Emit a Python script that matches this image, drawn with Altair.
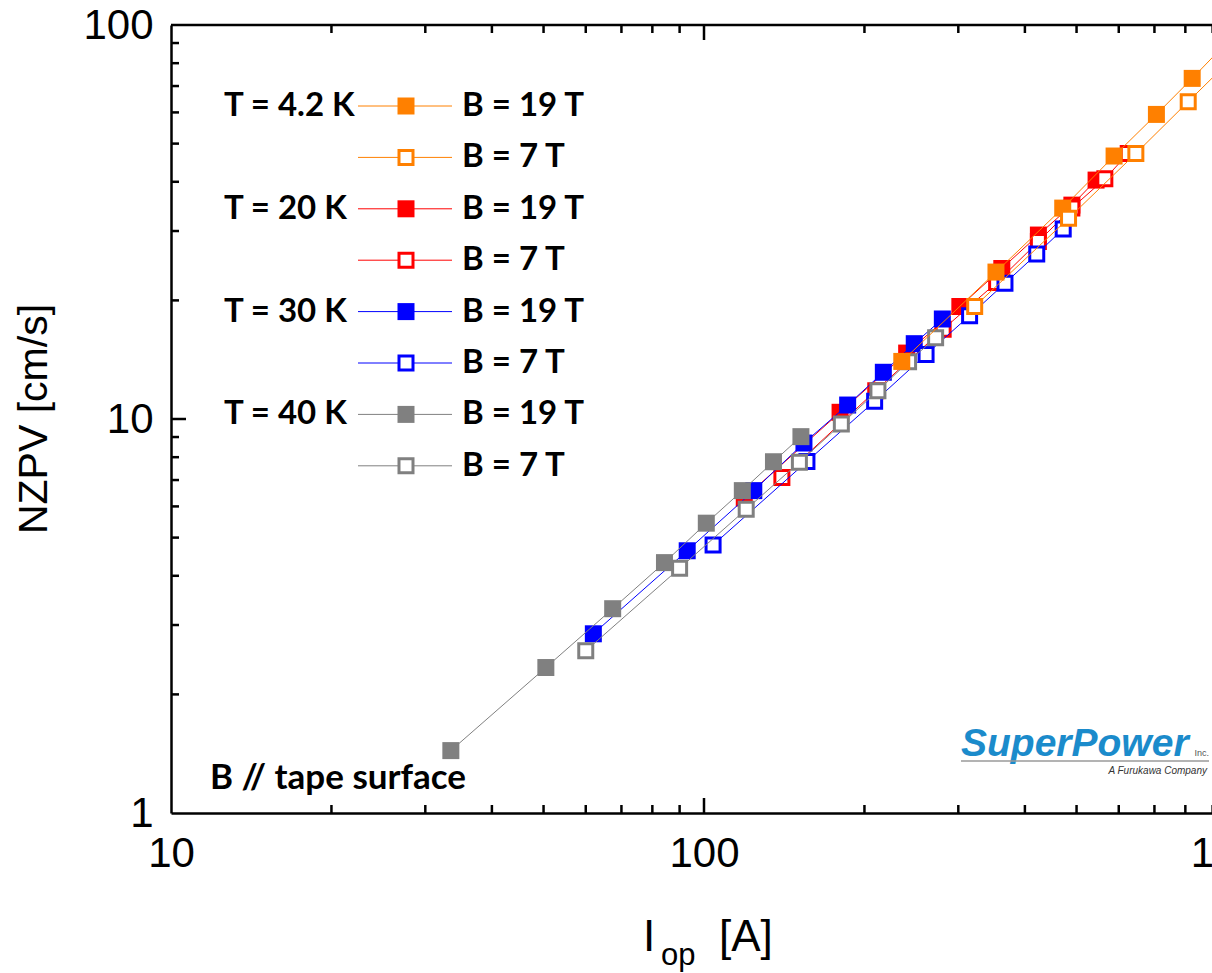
import altair as alt
import pandas as pd

# ---- measured points: operating current I_op [A] and NZPV [cm/s] ----
cur_4k2_19t = [235, 353, 471, 588, 706, 824, 940]
nzpv_4k2_19t = [14.0, 23.6, 34.3, 46.5, 59.3, 73.2, 88.0]
cur_4k2_7t = [322, 483, 646, 810, 966]
nzpv_4k2_7t = [19.3, 32.3, 47.2, 63.9, 80.8]
cur_20k_19t = [119, 180, 240, 302, 362, 424, 490, 544]
nzpv_20k_19t = [6.3, 10.4, 14.7, 19.3, 24.1, 29.3, 34.9, 40.4]
cur_20k_7t = [140, 210, 281, 354, 424, 490, 565, 625]
nzpv_20k_7t = [7.1, 11.8, 16.9, 22.2, 28.2, 34.3, 40.7, 47.2]
cur_30k_19t = [62, 93, 124, 154, 186, 217, 248, 280]
nzpv_30k_19t = [2.85, 4.63, 6.58, 8.69, 10.85, 13.14, 15.53, 17.94]
cur_30k_7t = [104, 156, 209, 261, 315, 367, 421, 472]
nzpv_30k_7t = [4.79, 7.80, 11.09, 14.58, 18.29, 22.10, 26.23, 30.35]
cur_40k_19t = [33.5, 50.5, 67.4, 84.3, 101, 118, 135, 152]
nzpv_40k_19t = [1.44, 2.34, 3.30, 4.32, 5.44, 6.58, 7.79, 9.02]
cur_40k_7t = [60, 90, 120, 151, 181, 212, 242, 272]
nzpv_40k_7t = [2.58, 4.18, 5.90, 7.77, 9.71, 11.80, 13.98, 16.08]

# legend / annotation texts
temp_labels = ["T = 4.2 K", "T = 20 K", "T = 30 K", "T = 40 K"]
field_labels = ["B = 19 T", "B = 7 T"]
note_text = "B // tape surface"

# axis labels and tick positions
x_labels = [10, 100, 1000]
y_labels = [1, 10, 100]
x_minor = [20, 30, 40, 50, 60, 70, 80, 90, 200, 300, 400, 500, 600, 700, 800, 900]
x_major = [100]
y_minor = [2, 3, 4, 5, 6, 7, 8, 9, 20, 30, 40, 50, 60, 70, 80, 90]
y_major = [10]

ORANGE, RED, BLUE, GRAY = "#FF8000", "#FF0000", "#0000FF", "#808080"

# (temperature index, field index, currents, velocities, colour, filled marker)
series = {
    "4.2K19T": (0, 0, cur_4k2_19t, nzpv_4k2_19t, ORANGE, True),
    "4.2K7T": (0, 1, cur_4k2_7t, nzpv_4k2_7t, ORANGE, False),
    "20K19T": (1, 0, cur_20k_19t, nzpv_20k_19t, RED, True),
    "20K7T": (1, 1, cur_20k_7t, nzpv_20k_7t, RED, False),
    "30K19T": (2, 0, cur_30k_19t, nzpv_30k_19t, BLUE, True),
    "30K7T": (2, 1, cur_30k_7t, nzpv_30k_7t, BLUE, False),
    "40K19T": (3, 0, cur_40k_19t, nzpv_40k_19t, GRAY, True),
    "40K7T": (3, 1, cur_40k_7t, nzpv_40k_7t, GRAY, False),
}
draw_order = ["20K19T", "20K7T", "30K19T", "30K7T", "40K19T", "40K7T", "4.2K19T", "4.2K7T"]
legend_order = ["4.2K19T", "4.2K7T", "20K19T", "20K7T", "30K19T", "30K7T", "40K19T", "40K7T"]

PLOT_W = 1041     # visible width of the plot area
X_RANGE = 1066    # pixel length of the full 10..1000 span
PLOT_H = 788
AXIS_FONT = "Liberation Sans"
TEXT_FONT = "Lato"
FILLED_SIZE = 289
OPEN_SIZE = 196

x_scale = alt.Scale(type="log", domain=[10, 1000], range=[0, X_RANGE])
y_scale = alt.Scale(type="log", domain=[1, 100])

# one shared axis definition per channel, used by every layer on that channel
x_axis = alt.Axis(values=x_labels, format="d", ticks=False, tickSize=0, grid=False,
                  domainColor="black", domainWidth=2.5, labelFont=AXIS_FONT,
                  labelFontSize=42, labelColor="black", labelPadding=20,
                  labelFlush=False, labelOverlap=False, title=None)
y_axis = alt.Axis(values=y_labels, format="d", ticks=False, tickSize=0, grid=False,
                  domainColor="black", domainWidth=2.5, labelFont=AXIS_FONT,
                  labelFontSize=42, labelColor="black", labelPadding=18,
                  labelOverlap=False, title=None)

X_ENC = lambda f: alt.X(f, scale=x_scale, axis=x_axis)
Y_ENC = lambda f: alt.Y(f, scale=y_scale, axis=y_axis)

one = pd.DataFrame({"k": [0]})
layers = []

# ---- inward-pointing ticks on the bottom, top and left edges ----
def tick_frame(vals):
    return pd.DataFrame({"t": vals})

def rule(df):
    return alt.Chart(df).mark_rule(color="black", strokeWidth=2.5)

layers += [
    rule(tick_frame(x_minor)).encode(x=X_ENC("t:Q"), y=alt.value(PLOT_H), y2=alt.value(PLOT_H - 8)),
    rule(tick_frame(x_major)).encode(x=X_ENC("t:Q"), y=alt.value(PLOT_H), y2=alt.value(PLOT_H - 15)),
    rule(tick_frame(x_minor)).encode(x=X_ENC("t:Q"), y=alt.value(0), y2=alt.value(8)),
    rule(tick_frame(x_major)).encode(x=X_ENC("t:Q"), y=alt.value(0), y2=alt.value(15)),
    rule(tick_frame(y_minor)).encode(y=Y_ENC("t:Q"), x=alt.value(0), x2=alt.value(8)),
    rule(tick_frame(y_major)).encode(y=Y_ENC("t:Q"), x=alt.value(0), x2=alt.value(15)),
    rule(one).encode(x=alt.value(0), x2=alt.value(X_RANGE), y=alt.value(0)),
]

# ---- data series: thin connecting line + square markers ----
for key in draw_order:
    _, _, cur, nz, colour, filled = series[key]
    df = pd.DataFrame({"I": cur, "V": nz})
    enc = dict(x=X_ENC("I:Q"), y=Y_ENC("V:Q"))
    line = alt.Chart(df).mark_line(color=colour, strokeWidth=1, clip=True).encode(**enc)
    if filled:
        pts = alt.Chart(df).mark_point(shape="square", filled=True, color=colour,
                                       size=FILLED_SIZE, opacity=1, strokeWidth=0,
                                       clip=True).encode(**enc)
    else:
        pts = alt.Chart(df).mark_point(shape="square", filled=True, fill="white",
                                       stroke=colour, strokeWidth=3, size=OPEN_SIZE,
                                       opacity=1, clip=True).encode(**enc)
    layers += [line, pts]

# ---- hand-built legend ----
ROW0, ROW_STEP = 81, 51.4
LEG_X0, LEG_X1, LEG_MARK = 187, 281, 235
for row, key in enumerate(legend_order):
    t_idx, b_idx, _, _, colour, filled = series[key]
    ypix = ROW0 + row * ROW_STEP
    layers.append(alt.Chart(one).mark_rule(color=colour, strokeWidth=1).encode(
        x=alt.value(LEG_X0), x2=alt.value(LEG_X1), y=alt.value(ypix)))
    if filled:
        mk = alt.Chart(one).mark_point(shape="square", filled=True, color=colour,
                                       size=FILLED_SIZE, opacity=1, strokeWidth=0)
    else:
        mk = alt.Chart(one).mark_point(shape="square", filled=True, fill="white",
                                       stroke=colour, strokeWidth=3, size=OPEN_SIZE, opacity=1)
    layers.append(mk.encode(x=alt.value(LEG_MARK), y=alt.value(ypix)))
    layers.append(alt.Chart(one).mark_text(
        text=field_labels[b_idx], font=TEXT_FONT, fontSize=33, fontWeight="bold",
        color="black", align="left", baseline="middle").encode(
        x=alt.value(291), y=alt.value(ypix)))
    if b_idx == 0:
        layers.append(alt.Chart(one).mark_text(
            text=temp_labels[t_idx], font=TEXT_FONT, fontSize=33, fontWeight="bold",
            color="black", align="left", baseline="middle").encode(
            x=alt.value(53), y=alt.value(ypix)))

# ---- annotation and axis titles ----
layers.append(alt.Chart(one).mark_text(
    text=note_text, font=TEXT_FONT, fontSize=35, fontWeight="bold", color="black",
    align="left", baseline="middle").encode(x=alt.value(39), y=alt.value(753)))

layers.append(alt.Chart(one).mark_text(
    text="NZPV [cm/s]", font=AXIS_FONT, fontSize=41, color="black", angle=270,
    align="center", baseline="middle").encode(x=alt.value(-136), y=alt.value(394)))

layers.append(alt.Chart(one).mark_text(
    text="I", font=AXIS_FONT, fontSize=44, color="black", align="left",
    baseline="alphabetic").encode(x=alt.value(472), y=alt.value(926)))
layers.append(alt.Chart(one).mark_text(
    text="op", font=AXIS_FONT, fontSize=31, color="black", align="left",
    baseline="alphabetic").encode(x=alt.value(490), y=alt.value(940)))
layers.append(alt.Chart(one).mark_text(
    text="[A]", font=AXIS_FONT, fontSize=44, color="black", align="left",
    baseline="alphabetic").encode(x=alt.value(548), y=alt.value(926)))

# ---- company mark in the lower right corner ----
layers.append(alt.Chart(one).mark_text(
    text="SuperPower", font=AXIS_FONT, fontSize=39, fontWeight="bold",
    fontStyle="italic", color="#1B8BCB", align="left", baseline="alphabetic").encode(
    x=alt.value(790), y=alt.value(731)))
layers.append(alt.Chart(one).mark_rule(color="#9a9a9a", strokeWidth=1.5).encode(
    x=alt.value(790), x2=alt.value(1038), y=alt.value(736)))
layers.append(alt.Chart(one).mark_text(
    text="Inc.", font=AXIS_FONT, fontSize=9, color="#555555", align="right",
    baseline="alphabetic").encode(x=alt.value(1038), y=alt.value(731)))
layers.append(alt.Chart(one).mark_text(
    text="A Furukawa Company", font=AXIS_FONT, fontSize=10, fontStyle="italic",
    color="#333333", align="right", baseline="alphabetic").encode(
    x=alt.value(1036), y=alt.value(749)))

chart = alt.layer(*layers).properties(
    width=PLOT_W, height=PLOT_H,
    autosize=alt.AutoSizeParams(type="none"),
    padding={"left": 171, "top": 25, "right": 0, "bottom": 160},
    background="white",
).configure_view(stroke=None)

chart.save("out.html", embed_options={"renderer": "svg", "actions": False})
